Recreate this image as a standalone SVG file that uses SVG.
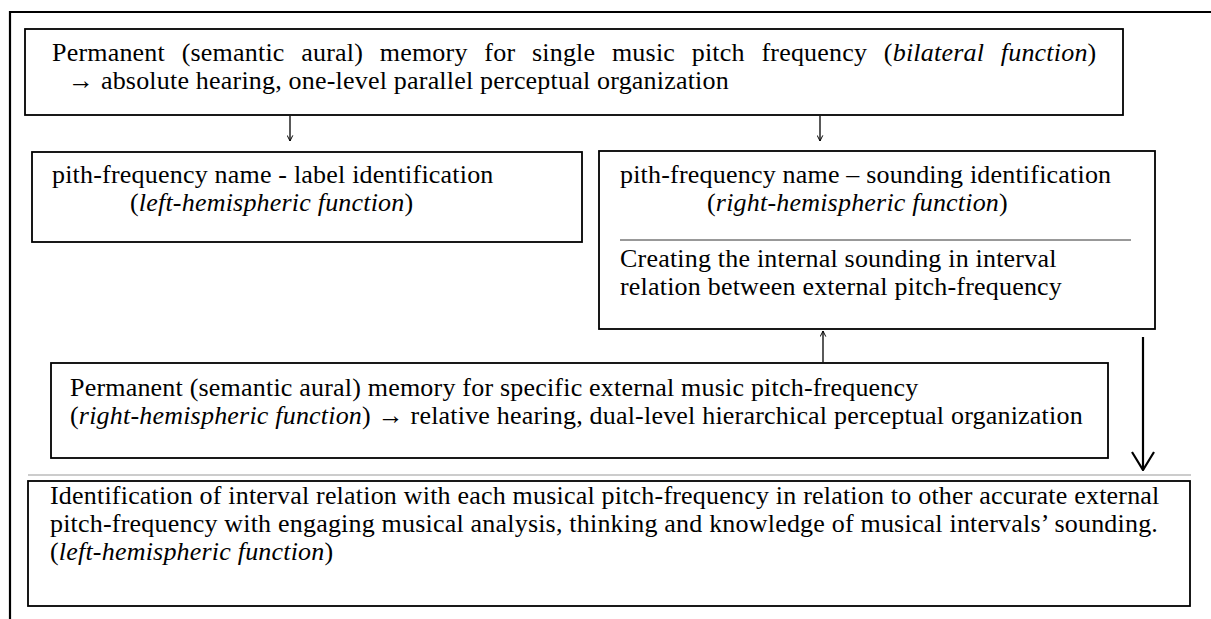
<svg xmlns="http://www.w3.org/2000/svg" width="1211" height="619" viewBox="0 0 1211 619">
<style>
.box{fill:#fff;stroke:#000;stroke-width:1.8}
.t{font-family:"Liberation Serif","Times New Roman",serif;font-size:26px;letter-spacing:0.2px;fill:#000}
.i{font-style:italic}
.c{stroke:#000;fill:none}
.thin{stroke-width:1.3}
.thick{stroke-width:2.2}
</style>
<defs>
<marker id="sm" viewBox="0 0 10 10" refX="9" refY="5" markerWidth="7" markerHeight="7" markerUnits="userSpaceOnUse" orient="auto">
<path d="M1,1 L9,5 L1,9" fill="none" stroke="#000" stroke-width="1.4"/>
</marker>
<marker id="big" viewBox="0 0 20 24" refX="19" refY="12" markerWidth="20" markerHeight="24" markerUnits="userSpaceOnUse" orient="auto">
<path d="M1,1 L19,12 L1,23" fill="none" stroke="#000" stroke-width="2.2"/>
</marker>
</defs>
<rect width="1211" height="619" fill="#fff"/>
<g id="frame">
<path d="M10,619 V12 H1211" fill="none" stroke="#000" stroke-width="2.2"/>
<line x1="28" y1="475" x2="1191" y2="475" stroke="#999" stroke-width="1"/>
</g>
<g id="node-top">
<rect class="box" x="25" y="29" width="1098" height="86"/>
<text class="t" x="52" y="61" word-spacing="10">Permanent (semantic aural) memory for single music pitch frequency (<tspan class="i">bilateral function</tspan>)</text>
<text class="t" x="68" y="89">→ absolute hearing, one-level parallel perceptual organization</text>
</g>
<g id="node-left">
<rect class="box" x="32" y="152" width="550" height="90"/>
<text class="t" x="52" y="183">pith-frequency name - label identification</text>
<text class="t" x="130" y="211">(<tspan class="i">left-hemispheric function</tspan>)</text>
</g>
<g id="node-right">
<rect class="box" x="599" y="151" width="556" height="178"/>
<text class="t" x="620" y="183">pith-frequency name – sounding identification</text>
<text class="t" x="707" y="211">(<tspan class="i">right-hemispheric function</tspan>)</text>
<line x1="620" y1="240" x2="1131" y2="240" stroke="#333" stroke-width="1"/>
<text class="t" x="620" y="267">Creating the internal sounding in interval</text>
<text class="t" x="620" y="295">relation between external pitch-frequency</text>
</g>
<g id="node-middle">
<rect class="box" x="51" y="363" width="1057" height="95"/>
<text class="t" x="70" y="396">Permanent (semantic aural) memory for specific external music pitch-frequency</text>
<text class="t" x="70" y="424">(<tspan class="i">right-hemispheric function</tspan>) → relative hearing, dual-level hierarchical perceptual organization</text>
</g>
<g id="node-bottom">
<rect class="box" x="28" y="481" width="1162" height="125"/>
<text class="t" x="50" y="504">Identification of interval relation with each musical pitch-frequency in relation to other accurate external</text>
<text class="t" x="50" y="532">pitch-frequency with engaging musical analysis, thinking and knowledge of musical intervals’ sounding.</text>
<text class="t" x="50" y="560">(<tspan class="i">left-hemispheric function</tspan>)</text>
</g>
<g id="connectors">
<line class="c thin" x1="290" y1="116" x2="290" y2="141" marker-end="url(#sm)"/>
<line class="c thin" x1="820" y1="116" x2="820" y2="141" marker-end="url(#sm)"/>
<line class="c thin" x1="823" y1="362" x2="823" y2="331" marker-end="url(#sm)"/>
<line class="c thick" x1="1143" y1="337" x2="1143" y2="470" marker-end="url(#big)"/>
</g>
</svg>
